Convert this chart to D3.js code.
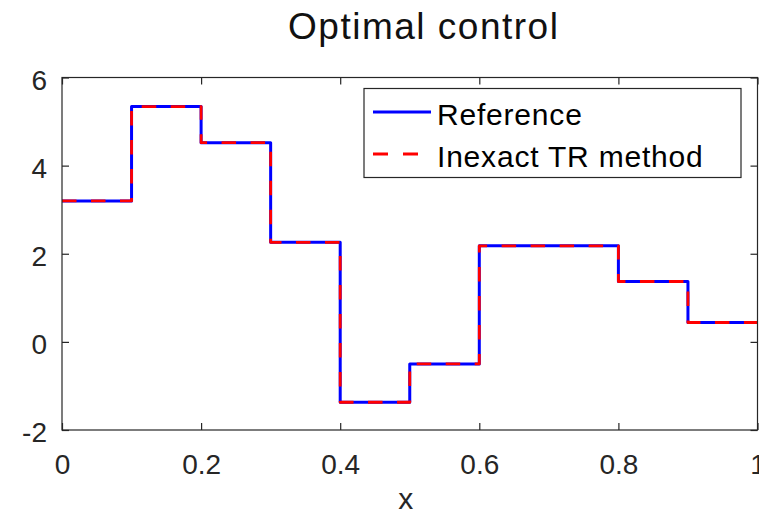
<!DOCTYPE html>
<html>
<head>
<meta charset="utf-8">
<script src="https://cdn.jsdelivr.net/npm/d3@7"></script>
<style>
  body { margin: 0; background: #fff; }
  svg { display: block; font-family: "Liberation Sans", Arial, Helvetica, sans-serif; }
</style>
</head>
<body>
<svg id="chart" width="759" height="515"></svg>
<script>
// Data: piecewise-constant control on [0,1]
const breakpoints = [0, 0.1, 0.2, 0.3, 0.4, 0.5, 0.6, 0.7, 0.8, 0.9, 1.0];
const referenceValues = [3.20, 5.34, 4.52, 2.26, -1.37, -0.50, 2.18, 2.18, 1.37, 0.44];
const inexactValues   = [3.20, 5.34, 4.52, 2.26, -1.37, -0.50, 2.18, 2.18, 1.37, 0.44];
const xTicks = [0, 0.2, 0.4, 0.6, 0.8, 1];
const xTickLabels = ["0", "0.2", "0.4", "0.6", "0.8", "1"];
const yTicks = [-2, 0, 2, 4, 6];
const yTickLabels = ["-2", "0", "2", "4", "6"];
const seriesNames = ["Reference", "Inexact TR method"];
const titleText = "Optimal control";
const xLabelText = "x";

const svg = d3.select("#chart");
const L = 62, R = 757.5, T = 77.5, B = 430;
const x = d3.scaleLinear().domain([0, 1]).range([L, R]);
const y = d3.scaleLinear().domain([-2, 6]).range([B, T]);
const axisColor = "#262626";

function stepPoints(vals) {
  const pts = [];
  vals.forEach((v, i) => {
    pts.push([breakpoints[i], v]);
    pts.push([breakpoints[i + 1], v]);
  });
  return pts;
}
const line = d3.line().x(d => x(d[0])).y(d => y(d[1]));

// series
svg.append("path")
  .attr("d", line(stepPoints(referenceValues)))
  .attr("fill", "none").attr("stroke", "#0000ff").attr("stroke-width", 3)
  .attr("stroke-linejoin", "round");
svg.append("path")
  .attr("d", line(stepPoints(inexactValues)))
  .attr("fill", "none").attr("stroke", "#ff0000").attr("stroke-width", 2.8)
  .attr("stroke-dasharray", "14.5,14.5")
  .attr("stroke-linejoin", "round");

// axes box
const ax = svg.append("g").attr("stroke", axisColor).attr("fill", "none").attr("stroke-width", 1.2);
ax.append("rect").attr("x", L).attr("y", T).attr("width", R - L).attr("height", B - T);

// bottom & top axes (ticks inward)
const xAxisB = d3.axisBottom(x).tickValues(xTicks).tickSize(-7).tickFormat((d, i) => xTickLabels[i]).tickPadding(20);
const gxb = svg.append("g").attr("transform", `translate(0,${B})`).call(xAxisB);
const xAxisT = d3.axisTop(x).tickValues(xTicks).tickSize(-7).tickFormat("");
const gxt = svg.append("g").attr("transform", `translate(0,${T})`).call(xAxisT);
const yAxisL = d3.axisLeft(y).tickValues(yTicks).tickSize(-7).tickFormat((d, i) => yTickLabels[i]).tickPadding(15);
const gyl = svg.append("g").attr("transform", `translate(${L},0)`).call(yAxisL);
const yAxisR = d3.axisRight(y).tickValues(yTicks).tickSize(-7).tickFormat("");
const gyr = svg.append("g").attr("transform", `translate(${R},0)`).call(yAxisR);

[gxb, gxt, gyl, gyr].forEach(g => {
  g.select(".domain").remove();
  g.selectAll(".tick line").attr("stroke", axisColor).attr("stroke-width", 1.2);
  g.selectAll("text").attr("fill", axisColor).style("font-size", "28px")
    .style("font-family", "'Liberation Sans', Arial, sans-serif");
});
gxb.selectAll("text").attr("dy", "0.71em").attr("y", 24);
gyl.selectAll("text").attr("dy", "0.42em").attr("x", -15);

// title
svg.append("text").attr("x", (L + R) / 2 + 14).attr("y", 39)
  .attr("text-anchor", "middle").attr("fill", "#111")
  .style("font-size", "37px").style("letter-spacing", "1.5px")
  .text(titleText);

// x label
svg.append("text").attr("x", (L + R) / 2 - 4).attr("y", 509)
  .attr("text-anchor", "middle").attr("fill", axisColor)
  .style("font-size", "30px").text(xLabelText);

// legend
const lg = svg.append("g");
lg.append("rect").attr("x", 364).attr("y", 88.5).attr("width", 377).attr("height", 89)
  .attr("fill", "#fff").attr("stroke", axisColor).attr("stroke-width", 1.2);
const legendItems = [
  { name: seriesNames[0], color: "#0000ff", dash: null, yy: 112 },
  { name: seriesNames[1], color: "#ff0000", dash: "15,15", yy: 154 }
];
legendItems.forEach(it => {
  lg.append("line").attr("x1", 373).attr("x2", 431).attr("y1", it.yy).attr("y2", it.yy)
    .attr("stroke", it.color).attr("stroke-width", 3)
    .attr("stroke-dasharray", it.dash);
  lg.append("text").attr("x", 437).attr("y", it.yy + 12.5)
    .attr("fill", "#000").style("font-size", "30px").style("letter-spacing", "0.8px")
    .text(it.name);
});
</script>
</body>
</html>
